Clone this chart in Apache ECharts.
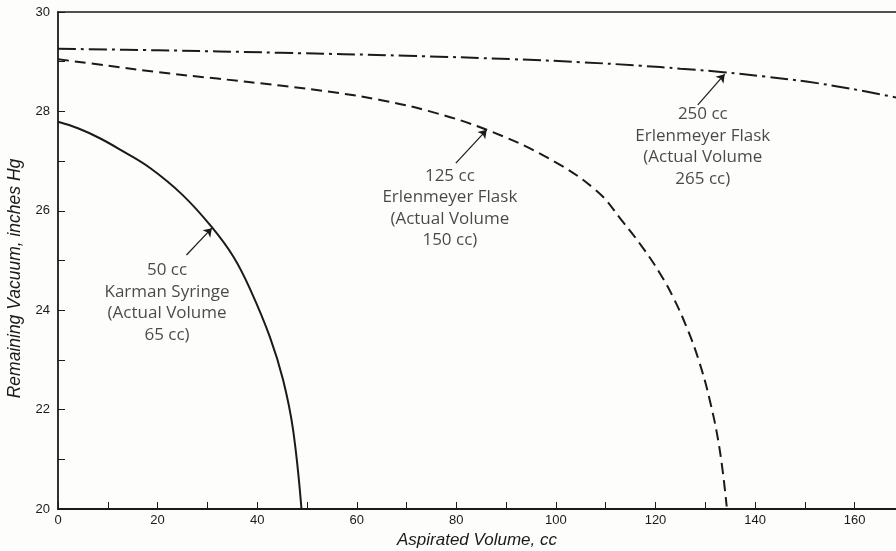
<!DOCTYPE html>
<html><head><meta charset="utf-8">
<script src="https://cdn.jsdelivr.net/npm/echarts@6/dist/echarts.min.js"></script>
<style>html,body{margin:0;padding:0;background:#fdfdfb}#c{width:896px;height:551px}</style>
</head><body><div id="c"></div>
<script>
// Data
const karmanX = [0, 4, 8.4, 13, 18.5, 25, 30.9, 35.2, 38.6, 42.6, 45.2, 47.2, 48.9];
const karmanY = [27.79, 27.66, 27.46, 27.2, 26.86, 26.32, 25.67, 25.08, 24.42, 23.45, 22.6, 21.6, 20.0];
const flask125X = [0, 10, 20, 32, 44.6, 55, 64.7, 74.7, 86.1, 98.1, 108.2, 113.5, 117.5, 120.9, 123.6, 126.2, 128.6, 130.9, 132.9, 134.3];
const flask125Y = [29.05, 28.92, 28.79, 28.66, 28.52, 28.39, 28.23, 28.0, 27.63, 27.08, 26.4, 25.77, 25.25, 24.74, 24.25, 23.67, 23.02, 22.19, 21.19, 20.05];
const flask250X = [0, 20, 44.6, 70, 91.4, 105, 116.9, 125, 133.6, 142, 150.3, 159, 168.3];
const flask250Y = [29.26, 29.23, 29.18, 29.12, 29.05, 28.99, 28.92, 28.86, 28.79, 28.7, 28.6, 28.46, 28.28];

const labelTexts = ['50 cc\nKarman Syringe\n(Actual Volume\n65 cc)',
                    '125 cc\nErlenmeyer Flask\n(Actual Volume\n150 cc)',
                    '250 cc\nErlenmeyer Flask\n(Actual Volume\n265 cc)'];
const labelPos = [[21.9, 24.15], [78.7, 26.05], [129.5, 27.29]];
const arrowFrom = [[25.8, 25.11], [79.9, 26.96], [128.5, 28.13]];
const arrowTo = [[30.9, 25.65], [86.1, 27.63], [133.9, 28.75]];

const xTitle = 'Aspirated Volume, cc';
const yTitle = 'Remaining Vacuum, inches Hg';
const xMin = 0, xMax = 168.3, yMin = 20, yMax = 30;

const ink = '#1a1a1a';
const zip = (a, b) => a.map((v, i) => [v, b[i]]);

function arrow(i) {
  return {
    silent: true, animation: false,
    symbol: ['none', 'arrow'], symbolSize: 8,
    label: {show: false},
    lineStyle: {color: ink, width: 1.2, type: 'solid'},
    data: [[{coord: arrowFrom[i]}, {coord: arrowTo[i]}]]
  };
}
function curve(name, xs, ys, type, i) {
  return {
    name, type: 'line', data: zip(xs, ys), smooth: 0.4,
    showSymbol: false, symbol: 'none', animation: false,
    lineStyle: {color: ink, width: 2, type: type},
    markLine: arrow(i)
  };
}

const chart = echarts.init(document.getElementById('c'));
chart.setOption({
  backgroundColor: '#fdfdfb',
  animation: false,
  grid: {left: 58, top: 12, right: 0, bottom: 42, containLabel: false, outerBoundsMode: 'none'},
  xAxis: [{
    type: 'value', min: xMin, max: xMax, interval: 10,
    name: xTitle, nameLocation: 'middle', nameGap: 22,
    nameTextStyle: {fontFamily: 'Liberation Sans', fontStyle: 'italic', fontSize: 17, color: ink},
    axisLine: {show: true, onZero: false, lineStyle: {color: ink, width: 1.8}},
    axisTick: {show: true, inside: true, length: 7, lineStyle: {color: ink, width: 1}},
    axisLabel: {margin: 5, fontFamily: 'Liberation Sans', fontSize: 13, color: ink,
      formatter: v => (Math.abs(v % 20) < 1e-9 ? String(v) : '')},
    splitLine: {show: false}
  }, {
    type: 'value', position: 'top', min: xMin, max: xMax,
    axisLine: {show: true, lineStyle: {color: ink, width: 1.5}},
    axisTick: {show: false}, axisLabel: {show: false}, splitLine: {show: false}
  }],
  yAxis: {
    type: 'value', min: yMin, max: yMax, interval: 1,
    name: yTitle, nameLocation: 'middle', nameGap: 34,
    nameTextStyle: {fontFamily: 'Liberation Sans', fontStyle: 'italic', fontSize: 17.5, color: ink, padding: [0, 36, 0, 0]},
    axisLine: {show: true, lineStyle: {color: ink, width: 1.8}},
    axisTick: {show: true, inside: true, length: 7, lineStyle: {color: ink, width: 1}},
    axisLabel: {margin: 8, fontFamily: 'Liberation Sans', fontSize: 13, color: ink,
      formatter: v => (v % 2 === 0 ? String(v) : '')},
    splitLine: {show: false}
  },
  series: [
    curve('50 cc Karman Syringe', karmanX, karmanY, 'solid', 0),
    curve('125 cc Erlenmeyer Flask', flask125X, flask125Y, [11, 6], 1),
    curve('250 cc Erlenmeyer Flask', flask250X, flask250Y, [18, 5, 3, 5], 2),
    {
      type: 'scatter', symbolSize: 0, silent: true, animation: false,
      data: labelPos.map((p, i) => ({value: p, name: labelTexts[i]})),
      label: {show: true, position: 'inside', formatter: p => p.name,
        fontFamily: 'Open Sans', fontSize: 17, lineHeight: 21.5, color: ink, align: 'center'}
    }
  ]
});
</script></body></html>
